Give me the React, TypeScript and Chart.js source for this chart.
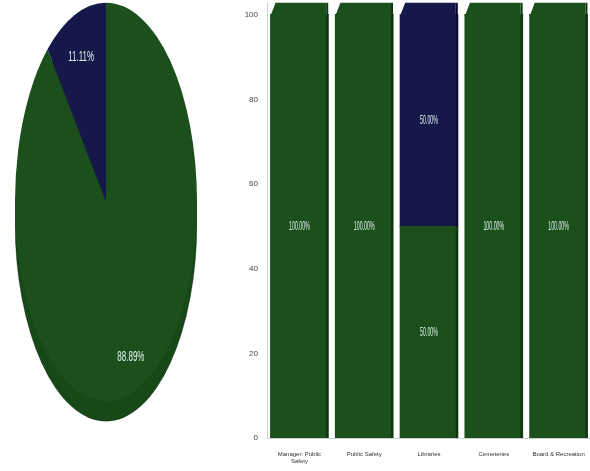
import React, { useEffect, useRef } from "react";
import { Chart, registerables } from "chart.js";

Chart.register(...registerables);

// ---- data ----
const pieLabels = ["Green", "Navy"];
const pieValues = [88.89, 11.11];

const barCategories: (string | string[])[] = [
  ["Manager: Public", "Safety"],
  "Public Safety",
  "Libraries",
  "Cemeteries",
  "Board & Recreation",
];
const greenValues = [100, 100, 50, 100, 100];
const navyValues = [0, 0, 50, 0, 0];
const yTickStep = 20;
const yTickMax = 100;

// ---- style ----
const GREEN = "#1b4f1b";
const NAVY = "#17184a";
const GREEN_SHADE = "#0f330f";
const NAVY_SHADE = "#0c0c30";
const WALL = "#174818";
const LABEL = "#dff3ee";
const NARROW = '"Liberation Sans Narrow", "Liberation Sans", Arial, sans-serif';
const SY = 2.19; // ellipse vertical stretch of the pie
const DEPTH = 20; // 3D thickness of the pie
const BAR_TOP_DEPTH = 12; // 3D top face of bars
const BAR_TOP_SLANT = 5;

const piePlugin = {
  id: "ellipsePie",
  beforeDatasetsDraw(chart: any) {
    const arc = chart.getDatasetMeta(0).data[0];
    if (!arc) return;
    const { x, y, outerRadius } = arc.getProps(["x", "y", "outerRadius"], true);
    const ctx = chart.ctx;
    ctx.save();
    ctx.fillStyle = WALL;
    ctx.beginPath();
    ctx.ellipse(x, y + DEPTH, outerRadius, outerRadius * SY, 0, 0, Math.PI * 2);
    ctx.fill();
    ctx.fillRect(x - outerRadius, y, outerRadius * 2, DEPTH);
    ctx.strokeStyle = "rgba(0,0,0,0.25)";
    ctx.lineWidth = 1;
    ctx.beginPath();
    ctx.ellipse(x, y + DEPTH, outerRadius, outerRadius * SY, 0, 0, Math.PI);
    ctx.stroke();
    ctx.translate(x, y);
    ctx.scale(1, SY);
    ctx.translate(-x, -y);
  },
  afterDatasetsDraw(chart: any) {
    const ctx = chart.ctx;
    ctx.restore();
    const meta = chart.getDatasetMeta(0);
    const values = chart.data.datasets[0].data as number[];
    ctx.save();
    ctx.fillStyle = LABEL;
    ctx.font = `10px ${NARROW}`;
    ctx.textAlign = "center";
    ctx.textBaseline = "middle";
    meta.data.forEach((el: any, i: number) => {
      const { x, y, startAngle, endAngle, outerRadius } = el.getProps(
        ["x", "y", "startAngle", "endAngle", "outerRadius"],
        true
      );
      const mid = (startAngle + endAngle) / 2;
      const r = outerRadius * 0.8;
      const px = x + Math.cos(mid) * r;
      const py = y + Math.sin(mid) * r * SY + DEPTH / 4;
      ctx.save();
      ctx.translate(px, py);
      ctx.scale(0.8, 1.5);
      ctx.fillText(values[i].toFixed(2) + "%", 0, 0);
      ctx.restore();
    });
    ctx.restore();
  },
};

const shades = [GREEN_SHADE, NAVY_SHADE];

const barLabelPlugin = {
  id: "barLabels",
  afterDatasetsDraw(chart: any) {
    const ctx = chart.ctx;
    const datasets = chart.data.datasets;
    ctx.save();
    const n = chart.data.labels.length;
    for (let i = 0; i < n; i++) {
      let top = -1;
      datasets.forEach((ds: any, di: number) => {
        if (ds.data[i]) top = di;
      });
      if (top < 0) continue;
      datasets.forEach((ds: any, di: number) => {
        if (!ds.data[i]) return;
        const el = chart.getDatasetMeta(di).data[i];
        const { x, y, base, width } = el.getProps(["x", "y", "base", "width"], true);
        ctx.fillStyle = shades[di];
        const yy = di === top ? y - BAR_TOP_DEPTH : y;
        ctx.fillRect(x + width / 2 - 2, yy, 2, base - yy);
      });
      const el = chart.getDatasetMeta(top).data[i];
      const { x, y, width } = el.getProps(["x", "y", "width"], true);
      const l = x - width / 2;
      const r = x + width / 2 - 2;
      ctx.fillStyle = datasets[top].backgroundColor;
      ctx.beginPath();
      ctx.moveTo(l, y + 1);
      ctx.lineTo(l + BAR_TOP_SLANT, y - BAR_TOP_DEPTH);
      ctx.lineTo(r, y - BAR_TOP_DEPTH);
      ctx.lineTo(r, y + 1);
      ctx.closePath();
      ctx.fill();
    }
    ctx.restore();

    ctx.save();
    ctx.fillStyle = LABEL;
    ctx.font = `7px ${NARROW}`;
    ctx.textAlign = "center";
    ctx.textBaseline = "middle";
    datasets.forEach((ds: any, di: number) => {
      const meta = chart.getDatasetMeta(di);
      meta.data.forEach((el: any, i: number) => {
        const v = ds.data[i] as number;
        if (!v) return;
        const { x, y, base } = el.getProps(["x", "y", "base"], true);
        ctx.save();
        ctx.translate(x, (y + base) / 2);
        ctx.scale(0.75, 1.8);
        ctx.fillText(v.toFixed(2) + "%", 0, 0);
        ctx.restore();
      });
    });
    ctx.restore();
  },
};

export default function App() {
  const pieRef = useRef<HTMLCanvasElement>(null);
  const barRef = useRef<HTMLCanvasElement>(null);

  useEffect(() => {
    const pie = new Chart(pieRef.current!, {
      type: "pie",
      data: {
        labels: pieLabels,
        datasets: [
          {
            data: pieValues,
            backgroundColor: [GREEN, NAVY],
            borderWidth: 0,
          },
        ],
      },
      options: {
        responsive: false,
        animation: false,
        events: [],
        layout: { padding: { bottom: DEPTH, top: 0, left: 0, right: 0 } },
        plugins: { legend: { display: false }, tooltip: { enabled: false } },
      },
      plugins: [piePlugin],
    });

    const bar = new Chart(barRef.current!, {
      type: "bar",
      data: {
        labels: barCategories,
        datasets: [
          {
            label: "Green",
            data: greenValues,
            backgroundColor: GREEN,
            borderWidth: 0,
            inflateAmount: 0.5,
            categoryPercentage: 1,
            barPercentage: 0.89,
          },
          {
            label: "Navy",
            data: navyValues,
            backgroundColor: NAVY,
            borderWidth: 0,
            inflateAmount: 0.5,
            categoryPercentage: 1,
            barPercentage: 0.89,
          },
        ],
      },
      options: {
        responsive: false,
        animation: false,
        events: [],
        layout: { padding: { top: 3, right: 9, left: 0, bottom: 0 } },
        plugins: { legend: { display: false }, tooltip: { enabled: false } },
        scales: {
          x: {
            stacked: true,
            grid: { display: false, drawTicks: false },
            border: { display: true, color: "#c9d3d3" },
            ticks: {
              color: "#333",
              font: { size: 6, family: NARROW },
              padding: 13,
              maxRotation: 0,
              autoSkip: false,
            },
            afterFit: (s: any) => {
              s.height = 33;
              s.paddingLeft = 0;
              s.paddingRight = 0;
            },
          },
          y: {
            stacked: true,
            position: "left",
            min: 0,
            max: yTickMax * 1.028,
            grid: { display: false, drawTicks: false },
            border: { display: true, color: "#cfd5d5" },
            ticks: {
              stepSize: yTickStep,
              includeBounds: false,
              color: "#444",
              font: { size: 8, family: NARROW },
              padding: 9,
            },
            afterFit: (s: any) => {
              s.width = 32;
              s.paddingTop = 0;
              s.paddingBottom = 0;
            },
          },
        },
      },
      plugins: [barLabelPlugin],
    });

    return () => {
      pie.destroy();
      bar.destroy();
    };
  }, []);

  return (
    <div
      style={{
        position: "fixed",
        left: 0,
        top: 0,
        width: 590,
        height: 471,
        background: "#fff",
        overflow: "hidden",
      }}
    >
      <canvas
        ref={pieRef}
        width={182}
        height={424}
        style={{ position: "absolute", left: 15, top: 0, width: 182, height: 424 }}
      />
      <canvas
        ref={barRef}
        width={365}
        height={471}
        style={{ position: "absolute", left: 235, top: 0, width: 365, height: 471 }}
      />
    </div>
  );
}
